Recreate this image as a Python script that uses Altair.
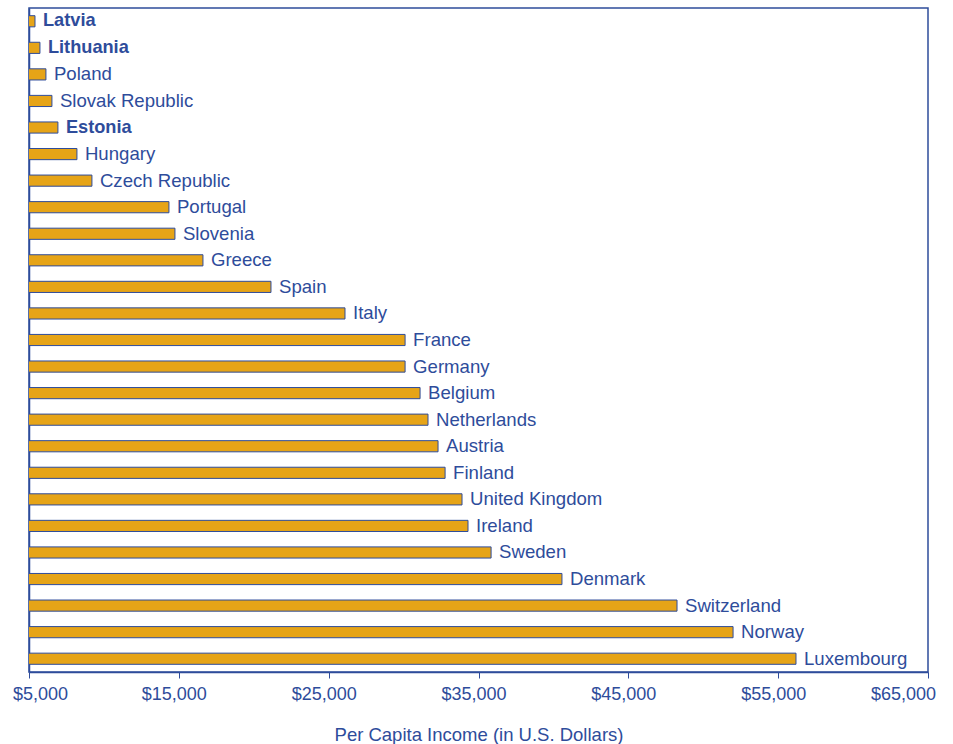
import altair as alt
import pandas as pd

countries = ["Latvia", "Lithuania", "Poland", "Slovak Republic", "Estonia", "Hungary",
             "Czech Republic", "Portugal", "Slovenia", "Greece", "Spain", "Italy", "France",
             "Germany", "Belgium", "Netherlands", "Austria", "Finland", "United Kingdom",
             "Ireland", "Sweden", "Denmark", "Switzerland", "Norway", "Luxembourg"]
income = [5400, 5730, 6130, 6530, 6930, 8200, 9200, 14340, 14740, 16610, 21150, 26090,
          30100, 30100, 31100, 31630, 32300, 32770, 33900, 34300, 35840, 40570, 48250,
          51990, 56190]
bold_countries = ["Latvia", "Lithuania", "Estonia"]
tick_values = [5000, 15000, 25000, 35000, 45000, 55000, 65000]

df = pd.DataFrame({"country": countries, "income": income})
df["bold"] = df["country"].isin(bold_countries)

BLUE = "#2E4C9B"
FILL = "#E6A417"
FONT = "Liberation Sans"

y_enc = alt.Y("country:N", sort=countries, axis=alt.Axis(labels=False, ticks=False, title=None,
                                                         domainColor=BLUE, domainWidth=1.5),
              scale=alt.Scale(paddingInner=0.58, paddingOuter=0.29))
x_enc = alt.X("income:Q", scale=alt.Scale(domain=[5000, 65000], nice=False, zero=False),
              axis=alt.Axis(values=tick_values, format="$,d",
                            title="Per Capita Income (in U.S. Dollars)", grid=False,
                            domainColor=BLUE, tickColor=BLUE, labelColor=BLUE, titleColor=BLUE,
                            labelFont=FONT, titleFont=FONT, labelFontSize=18, titleFontSize=18.5,
                            titleFontWeight="normal", tickSize=6, labelPadding=7,
                            labelFlush=False,
                            labelOffset={"condition": [
                                {"test": "datum.value == 5000", "value": 11},
                                {"test": "datum.value == 65000", "value": -25}],
                                "value": -5},
                            titlePadding=22, domainWidth=1.5))

base = alt.Chart(df)
bars = base.mark_bar(color=FILL, stroke=BLUE, strokeWidth=1, clip=True).encode(
    x=x_enc, y=y_enc)

text_normal = base.transform_filter("!datum.bold").mark_text(
    align="left", baseline="middle", dx=8, dy=0, font=FONT, fontSize=18.6, color=BLUE
).encode(x="income:Q", y=alt.Y("country:N", sort=countries), text="country:N")

text_bold = base.transform_filter("datum.bold").mark_text(
    align="left", baseline="middle", dx=8, dy=0, font=FONT, fontSize=18.2, color=BLUE,
    fontWeight="bold"
).encode(x="income:Q", y=alt.Y("country:N", sort=countries), text="country:N")

chart = alt.layer(bars, text_normal, text_bold).properties(
    width=899, height=664,
    padding={"left": 29, "top": 8, "right": 25, "bottom": 72},
    autosize=alt.AutoSizeParams(type="none"),
    background="white",
).configure_view(stroke=BLUE, strokeWidth=1.5)

chart.save("out.html", embed_options={"renderer": "svg", "actions": False})
